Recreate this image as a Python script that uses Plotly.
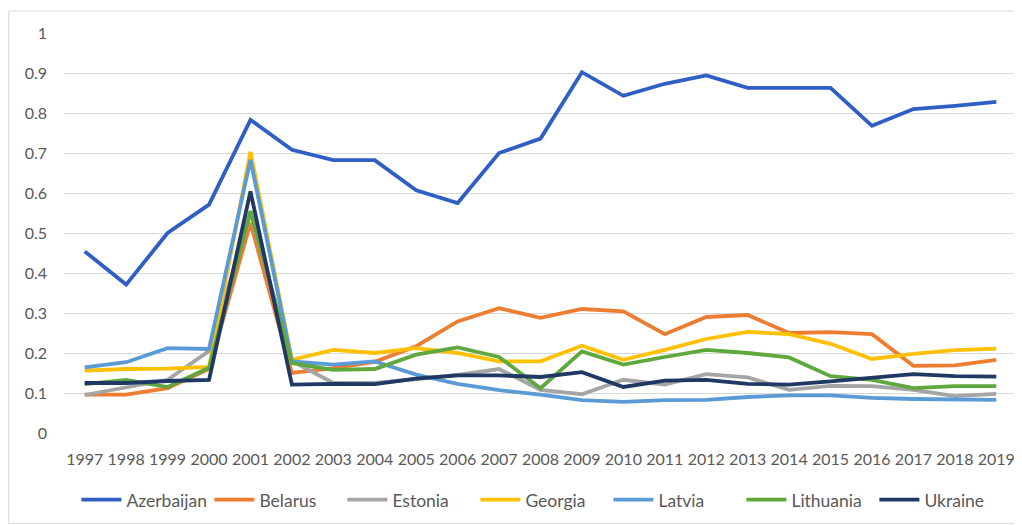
import plotly.graph_objects as go

years = [str(y) for y in range(1997, 2020)]

azerbaijan = [0.454, 0.371, 0.500, 0.571, 0.783, 0.708, 0.682, 0.682, 0.607, 0.575, 0.700, 0.736,
              0.902, 0.843, 0.873, 0.894, 0.863, 0.863, 0.863, 0.768, 0.810, 0.818, 0.828]
belarus = [0.096, 0.096, 0.112, 0.160, 0.525, 0.150, 0.162, 0.178, 0.217, 0.279, 0.312, 0.288,
           0.310, 0.304, 0.247, 0.290, 0.295, 0.250, 0.252, 0.247, 0.168, 0.169, 0.183]
estonia = [0.095, 0.115, 0.133, 0.205, 0.550, 0.180, 0.125, 0.125, 0.136, 0.145, 0.160, 0.108,
           0.097, 0.133, 0.121, 0.147, 0.139, 0.108, 0.118, 0.117, 0.108, 0.092, 0.098]
georgia = [0.156, 0.160, 0.161, 0.165, 0.703, 0.183, 0.208, 0.200, 0.212, 0.200, 0.179, 0.179,
           0.218, 0.183, 0.208, 0.235, 0.253, 0.247, 0.223, 0.185, 0.198, 0.207, 0.211]
latvia = [0.164, 0.177, 0.212, 0.210, 0.683, 0.179, 0.171, 0.179, 0.146, 0.123, 0.107, 0.096,
          0.082, 0.078, 0.082, 0.083, 0.090, 0.094, 0.094, 0.088, 0.085, 0.085, 0.083]
lithuania = [0.122, 0.133, 0.115, 0.163, 0.555, 0.175, 0.158, 0.160, 0.196, 0.214, 0.190, 0.112,
             0.204, 0.171, 0.190, 0.208, 0.200, 0.189, 0.142, 0.133, 0.112, 0.117, 0.117]
ukraine = [0.125, 0.125, 0.130, 0.133, 0.604, 0.121, 0.123, 0.122, 0.136, 0.144, 0.144, 0.140,
           0.152, 0.115, 0.131, 0.133, 0.123, 0.121, 0.129, 0.137, 0.147, 0.142, 0.141]

series = [
    ("Azerbaijan", azerbaijan, "#2F5EC4"),
    ("Belarus", belarus, "#ED7D31"),
    ("Estonia", estonia, "#A5A5A5"),
    ("Georgia", georgia, "#FFC000"),
    ("Latvia", latvia, "#5B9BD5"),
    ("Lithuania", lithuania, "#5FA83E"),
    ("Ukraine", ukraine, "#1F3864"),
]

y_ticks = [0, 0.1, 0.2, 0.3, 0.4, 0.5, 0.6, 0.7, 0.8, 0.9, 1]
y_tick_text = ["0", "0.1", "0.2", "0.3", "0.4", "0.5", "0.6", "0.7", "0.8", "0.9", "1"]

fig = go.Figure()
for name, vals, color in series:
    fig.add_trace(go.Scatter(x=years, y=vals, name=name, mode="lines",
                             line=dict(color=color, width=3.8)))

font = dict(family="Lato, 'Open Sans', sans-serif", size=16, color="#595959")

# page body has an 8px default margin, so the figure is 8px smaller and shifted
fig.update_layout(
    width=1014, height=517,
    margin=dict(l=56, r=5, t=25, b=92),
    paper_bgcolor="white", plot_bgcolor="white",
    font=font,
    showlegend=True,
    legend=dict(orientation="h", x=0.013, xanchor="left", y=-0.167, yanchor="middle",
                font=dict(family="Lato, 'Open Sans', sans-serif", size=17.5, color="#595959"),
                itemwidth=40, traceorder="normal", entrywidth=78, entrywidthmode="pixels"),
    xaxis=dict(type="category", range=[-0.5, 22.5], showgrid=False, showline=False,
               zeroline=False, ticks="", ticklabelstandoff=15, tickfont=font, tickangle=0,
               automargin=False),
    yaxis=dict(range=[0, 1], tickvals=y_ticks, ticktext=y_tick_text, showgrid=True,
               gridcolor="#D9D9D9", gridwidth=1, zeroline=False, showline=False, ticks="",
               ticklabelstandoff=16, tickfont=font, automargin=False),
    shapes=[dict(type="rect", xref="paper", yref="paper", x0=-0.058, x1=1.01, y0=-0.226, y1=1.055,
                 line=dict(color="#D9D9D9", width=1), fillcolor="rgba(0,0,0,0)", layer="below")],
)

fig.write_html("out.html")
